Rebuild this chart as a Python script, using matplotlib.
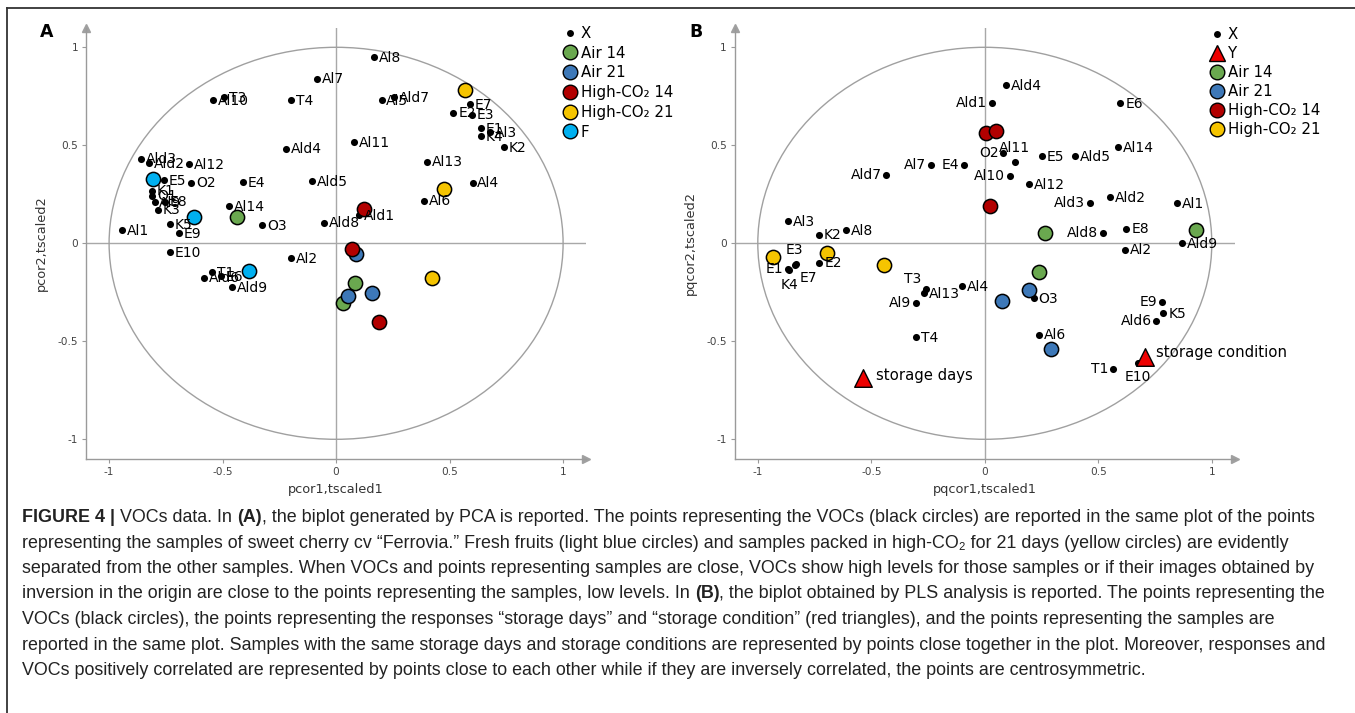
import matplotlib
matplotlib.use("Agg")
import matplotlib.pyplot as plt
import numpy as np
from matplotlib.lines import Line2D
from matplotlib.patches import Circle

plt.rcParams['axes.unicode_minus'] = False
plt.rcParams['font.family'] = ['DejaVu Sans']

# ---------------- DATA ----------------
# Panel A (PCA): VOC variables
a_var_names = ["Al8", "Al7", "T3", "Al10", "T4", "Al5", "Ald7", "E7", "E2", "E3",
               "E1", "Al3", "K4", "K2", "Ald4", "Al11", "Al13", "Al4", "Al6", "Ald5",
               "Ald1", "Ald8", "Ald3", "Ald2", "Al12", "E5", "O2", "E4", "K1", "O1",
               "Al9", "E8", "K3", "Al14", "O3", "Al1", "K5", "E9", "E10", "Al2",
               "T1", "Ald6", "E6", "Ald9"]
a_var_x = [0.166, -0.084, -0.492, -0.544, -0.200, 0.200, 0.254, 0.588, 0.517, 0.597,
           0.637, 0.677, 0.637, 0.739, -0.219, 0.080, 0.400, 0.601, 0.389, -0.105,
           0.101, -0.052, -0.859, -0.826, -0.647, -0.758, -0.639, -0.412, -0.810, -0.810,
           -0.800, -0.754, -0.785, -0.473, -0.326, -0.943, -0.733, -0.691, -0.733, -0.200,
           -0.548, -0.580, -0.506, -0.460]
a_var_y = [0.950, 0.840, 0.744, 0.730, 0.732, 0.730, 0.744, 0.710, 0.666, 0.657,
           0.589, 0.567, 0.546, 0.489, 0.483, 0.517, 0.417, 0.310, 0.218, 0.317,
           0.145, 0.106, 0.432, 0.410, 0.405, 0.322, 0.310, 0.313, 0.269, 0.243,
           0.210, 0.212, 0.172, 0.189, 0.092, 0.068, 0.097, 0.051, -0.046, -0.077,
           -0.148, -0.175, -0.169, -0.225]

# Panel A samples
a_f_x = [-0.805, -0.624, -0.384]
a_f_y = [0.329, 0.136, -0.140]
a_air14_x = [-0.437, 0.084, 0.029]
a_air14_y = [0.134, -0.201, -0.306]
a_air21_x = [0.088, 0.160, 0.052]
a_air21_y = [-0.054, -0.252, -0.271]
a_hco14_x = [0.124, 0.071, 0.189]
a_hco14_y = [0.174, -0.027, -0.403]
a_hco21_x = [0.567, 0.475, 0.424]
a_hco21_y = [0.783, 0.277, -0.175]

# Panel B (PLS): VOC variables
b_var_names = ["Ald4", "Ald1", "E6", "O2", "Al11", "E4", "Al7", "Ald7", "E5", "Ald5",
               "Al14", "Al10", "Al12", "Ald3", "Ald2", "Al1", "Al3", "K2", "Al8", "Ald8",
               "E8", "Ald9", "Al2", "E1", "K4", "E3", "E7", "E2", "T3", "Al13",
               "Al4", "Al9", "O3", "T4", "Al6", "E9", "K5", "Ald6", "T1", "E10"]
b_var_x = [0.095, 0.030, 0.597, 0.082, 0.131, -0.091, -0.237, -0.434, 0.250, 0.396,
           0.588, 0.112, 0.193, 0.463, 0.552, 0.847, -0.866, -0.730, -0.610, 0.521,
           0.624, 0.870, 0.618, -0.866, -0.862, -0.833, -0.836, -0.729, -0.260, -0.267,
           -0.099, -0.301, 0.216, -0.303, 0.239, 0.779, 0.787, 0.756, 0.565, 0.675]
b_var_y = [0.807, 0.718, 0.715, 0.461, 0.415, 0.397, 0.402, 0.351, 0.446, 0.443,
           0.489, 0.342, 0.301, 0.206, 0.235, 0.206, 0.114, 0.044, 0.068, 0.051,
           0.075, 0.000, -0.032, -0.133, -0.137, -0.107, -0.110, -0.099, -0.235, -0.255,
           -0.218, -0.306, -0.281, -0.480, -0.466, -0.301, -0.356, -0.395, -0.642, -0.613]

# Panel B samples
b_hco14_x = [0.004, 0.051, 0.023]
b_hco14_y = [0.562, 0.574, 0.189]
b_air14_x = [0.267, 0.931, 0.237]
b_air14_y = [0.051, 0.068, -0.148]
b_air21_x = [0.195, 0.074, 0.292]
b_air21_y = [-0.240, -0.294, -0.541]
b_hco21_x = [-0.933, -0.696, -0.444]
b_hco21_y = [-0.068, -0.048, -0.111]

# Panel B responses (Y)
b_resp_names = ["storage days", "storage condition"]
b_resp_x = [-0.537, 0.705]
b_resp_y = [-0.686, -0.580]

tick_values = [-1, -0.5, 0, 0.5, 1]
tick_labels = ["-1", "-0.5", "0", "0.5", "1"]

# ---------------- STYLE ----------------
C_AIR14 = "#6aa84f"
C_AIR21 = "#3d78b8"
C_HCO14 = "#b20000"
C_HCO21 = "#f5c400"
C_F = "#00b0f0"
C_RESP = "#ee0000"

W, H = 1355, 713
fig = plt.figure(figsize=(W / 100, H / 100), dpi=100)
fig.patch.set_facecolor("white")

# label offsets (points): name -> (dx, dy, ha)
DEFAULT_OFF = (3.5, -0.5, "left")
b_offsets = {
    "Ald1": (-3.5, 0, "right"), "O2": (-3.5, 0, "right"), "E4": (-3.5, 0, "right"),
    "Al7": (-3.5, 0, "right"), "Ald7": (-3.5, 0, "right"), "Al10": (-3.5, 0, "right"),
    "Ald3": (-3.5, 0, "right"), "Ald8": (-3.5, 0, "right"), "Al9": (-3.5, 0, "right"),
    "E9": (-3.5, 0, "right"), "Ald6": (-3.5, 0, "right"), "T1": (-3.5, 0, "right"),
    "E1": (-3.5, 0, "right"), "Al11": (0, 9.8, "center"), "T3": (-3.5, 7.5, "right"),
    "E3": (-1, 10, "center"), "K4": (0.5, -10.5, "center"), "E7": (3, -9.4, "left"),
    "E10": (0, -10, "center"),
}
b_resp_offsets = {"storage days": (9.3, 1.9), "storage condition": (7.8, 3.4)}


def px_rect(left, top, right, bottom):
    return [left / W, 1 - bottom / H, (right - left) / W, (bottom - top) / H]


def setup_axes(ax, xlabel, ylabel, letter):
    ax.set_xlim(-1.1, 1.1)
    ax.set_ylim(-1.1, 1.1)
    for s in ("top", "right"):
        ax.spines[s].set_visible(False)
    for s in ("left", "bottom"):
        ax.spines[s].set_color("#9a9a9a")
        ax.spines[s].set_linewidth(1.0)
    ax.set_xticks(tick_values)
    ax.set_xticklabels(tick_labels)
    ax.set_yticks(tick_values)
    ax.set_yticklabels(tick_labels)
    ax.tick_params(axis="both", length=3, width=0.8, color="#9a9a9a",
                   labelsize=7.6, labelcolor="#444444", pad=3)
    ax.set_xlabel(xlabel, fontsize=9.3, color="#333333", labelpad=4)
    ax.set_ylabel(ylabel, fontsize=9.3, color="#333333", labelpad=7)
    # arrows at axis ends
    ax.plot([1], [0], marker=">", markersize=6, color="#a0a0a0",
            transform=ax.transAxes, clip_on=False)
    ax.plot([0], [1], marker="^", markersize=6, color="#a0a0a0",
            transform=ax.transAxes, clip_on=False)
    # zero lines and unit circle
    ax.axhline(0, color="#a8a8a8", lw=1.0, zorder=1)
    ax.axvline(0, color="#a8a8a8", lw=1.0, zorder=1)
    ax.add_patch(Circle((0, 0), 1.0, fill=False, ec="#a0a0a0", lw=1.0, zorder=1))
    ax.text(-0.079, 0.99, letter, transform=ax.transAxes, fontsize=12.5,
            fontweight="bold", ha="center", va="center")


def samples(ax, xs, ys, color):
    ax.scatter(xs, ys, s=105, c=color, edgecolors="black", linewidths=1.1, zorder=4)


def variables(ax, names, xs, ys, offsets):
    ax.scatter(xs, ys, s=26, c="black", zorder=3, linewidths=0)
    for n, x, y in zip(names, xs, ys):
        dx, dy, ha = offsets.get(n, DEFAULT_OFF)
        ax.annotate(n, (x, y), xytext=(dx, dy), textcoords="offset points",
                    ha=ha, va="center", fontsize=10, color="black", zorder=5)


def legend(ax, entries, left_px, top_px, spacing):
    handles, labels = [], []
    for lab, marker, ms, fc in entries:
        handles.append(Line2D([], [], linestyle="", marker=marker, markersize=ms,
                              markerfacecolor=fc, markeredgecolor="black",
                              markeredgewidth=1.0 if ms > 6 else 0))
        labels.append(lab)
    ax.legend(handles, labels, loc="upper left",
              bbox_to_anchor=(left_px / W, 1 - top_px / H),
              bbox_transform=fig.transFigure, frameon=False, fontsize=10.8,
              handlelength=0.95, handletextpad=0.22, labelspacing=spacing,
              borderpad=0, borderaxespad=0)


# ---------------- PANEL A ----------------
axA = fig.add_axes(px_rect(86.4, 27.7, 585.8, 458.9))
setup_axes(axA, "pcor1,tscaled1", "pcor2,tscaled2", "A")
variables(axA, a_var_names, a_var_x, a_var_y, {})
samples(axA, a_f_x, a_f_y, C_F)
samples(axA, a_air14_x, a_air14_y, C_AIR14)
samples(axA, a_air21_x, a_air21_y, C_AIR21)
samples(axA, a_hco14_x, a_hco14_y, C_HCO14)
samples(axA, a_hco21_x, a_hco21_y, C_HCO21)
legend(axA, [("X", "o", 5, "black"),
             ("Air 14", "o", 10.5, C_AIR14),
             ("Air 21", "o", 10.5, C_AIR21),
             ("High-CO\u2082 14", "o", 10.5, C_HCO14),
             ("High-CO\u2082 21", "o", 10.5, C_HCO21),
             ("F", "o", 10.5, C_F)], 563, 26, 0.315)

# ---------------- PANEL B ----------------
axB = fig.add_axes(px_rect(735.1, 27.7, 1234.5, 458.9))
setup_axes(axB, "pqcor1,tscaled1", "pqcor2,tscaled2", "B")
variables(axB, b_var_names, b_var_x, b_var_y, b_offsets)
samples(axB, b_hco14_x, b_hco14_y, C_HCO14)
samples(axB, b_air14_x, b_air14_y, C_AIR14)
samples(axB, b_air21_x, b_air21_y, C_AIR21)
samples(axB, b_hco21_x, b_hco21_y, C_HCO21)
axB.scatter(b_resp_x, b_resp_y, s=160, marker="^", c=C_RESP, edgecolors="black",
            linewidths=1.0, zorder=6)
for n, x, y in zip(b_resp_names, b_resp_x, b_resp_y):
    dx, dy = b_resp_offsets[n]
    axB.annotate(n, (x, y), xytext=(dx, dy), textcoords="offset points",
                 ha="left", va="center", fontsize=10.7, zorder=7)
legend(axB, [("X", "o", 5, "black"),
             ("Y", "^", 11.5, C_RESP),
             ("Air 14", "o", 10.5, C_AIR14),
             ("Air 21", "o", 10.5, C_AIR21),
             ("High-CO\u2082 14", "o", 10.5, C_HCO14),
             ("High-CO\u2082 21", "o", 10.5, C_HCO21)], 1210, 27, 0.265)

# ---------------- FRAME ----------------
fig.add_artist(Line2D([7.5 / W, 1.0], [1 - 7.5 / H, 1 - 7.5 / H],
                      transform=fig.transFigure, color="#333333", lw=1.3))
fig.add_artist(Line2D([7.5 / W, 7.5 / W], [1 - 7.5 / H, 0.0],
                      transform=fig.transFigure, color="#333333", lw=1.3))

# ---------------- CAPTION ----------------
cap_lines = [
    [("FIGURE 4 |", True), (" VOCs data. In ", False), ("(A)", True),
     (", the biplot generated by PCA is reported. The points representing the VOCs (black circles) are reported in the same plot of the points", False)],
    [("representing the samples of sweet cherry cv \u201cFerrovia.\u201d Fresh fruits (light blue circles) and samples packed in high-CO\u2082 for 21 days (yellow circles) are evidently", False)],
    [("separated from the other samples. When VOCs and points representing samples are close, VOCs show high levels for those samples or if their images obtained by", False)],
    [("inversion in the origin are close to the points representing the samples, low levels. In ", False), ("(B)", True),
     (", the biplot obtained by PLS analysis is reported. The points representing the", False)],
    [("VOCs (black circles), the points representing the responses \u201cstorage days\u201d and \u201cstorage condition\u201d (red triangles), and the points representing the samples are", False)],
    [("reported in the same plot. Samples with the same storage days and storage conditions are represented by points close together in the plot. Moreover, responses and", False)],
    [("VOCs positively correlated are represented by points close to each other while if they are inversely correlated, the points are centrosymmetric.", False)],
]
CAP_FAMILY = ["Liberation Sans", "DejaVu Sans"]
renderer = fig.canvas.get_renderer()


def text_width(s, size, bold):
    t = fig.text(0, 0, s, fontsize=size, fontweight="bold" if bold else "normal",
                 family=CAP_FAMILY)
    w = t.get_window_extent(renderer).width
    t.remove()
    return w


def draw_line(pieces, x_px, base_px, size):
    made = []
    x = x_px
    for txt, bold in pieces:
        sp = text_width("a a", size, bold) - text_width("aa", size, bold)
        lead = len(txt) - len(txt.lstrip(" "))
        trail = len(txt) - len(txt.rstrip(" "))
        core = txt.strip(" ")
        x += lead * sp
        if core:
            t = fig.text(x / W, 1 - base_px / H, core, fontsize=size,
                         fontweight="bold" if bold else "normal", family=CAP_FAMILY,
                         va="baseline", ha="left", color="#222222")
            x += t.get_window_extent(renderer).width
            made.append(t)
        x += trail * sp
    return made, x


trial, end = draw_line(cap_lines[0], 22, 522, 10.0)
for t in trial:
    t.remove()
cap_size = 10.0 * (1316 - 22) / (end - 22)
for i, pieces in enumerate(cap_lines):
    draw_line(pieces, 22, 522 + i * 25.5, cap_size)

fig.savefig("out.png", dpi=100, facecolor="white")
